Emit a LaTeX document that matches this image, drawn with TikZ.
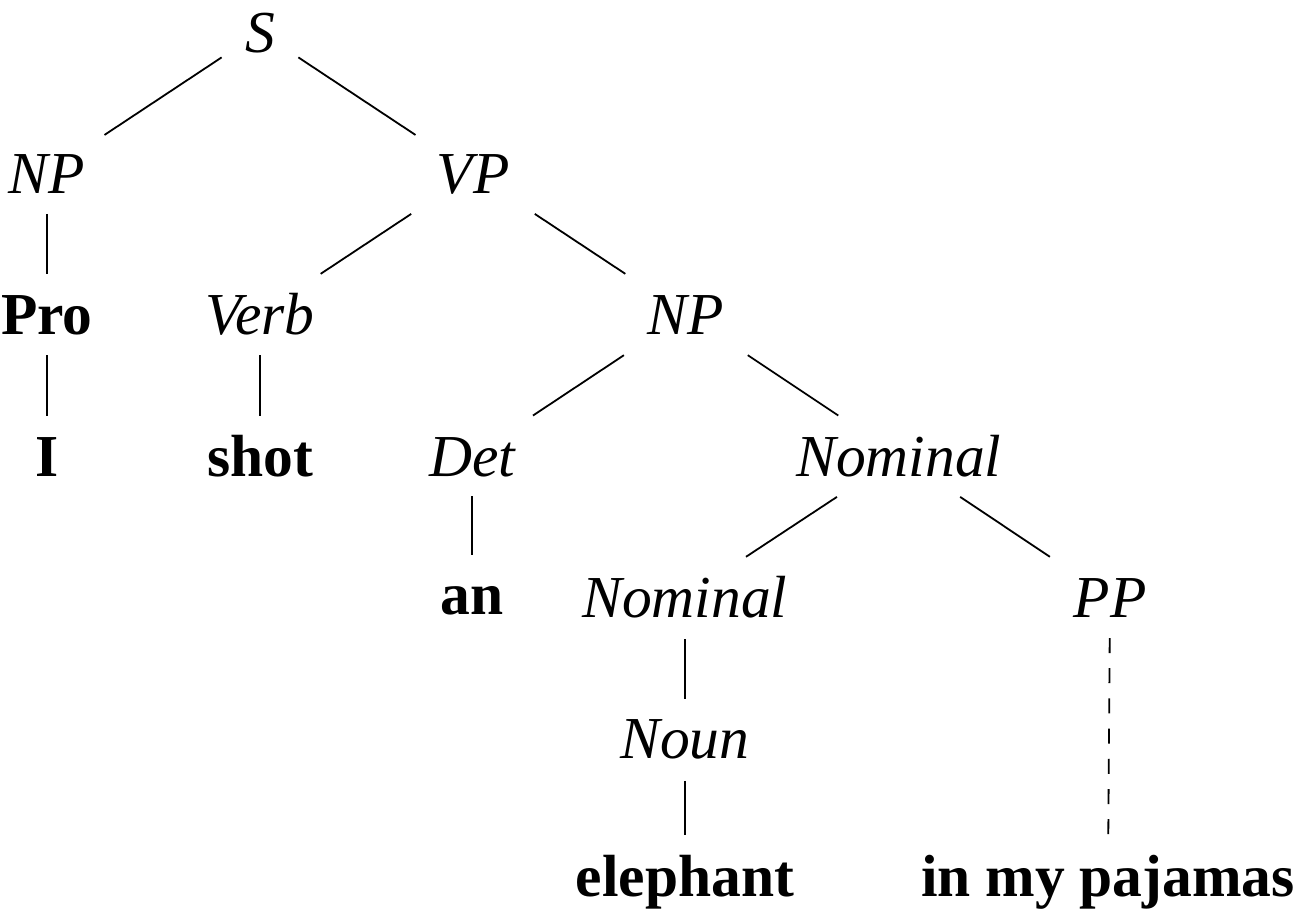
\documentclass[tikz,border=0pt]{standalone}
\usepackage{fontspec}
\setmainfont{Liberation Serif}
\usetikzlibrary{calc}
\tikzset{
  lab/.style={inner sep=0pt, outer sep=0pt, text height=40pt, text depth=0pt, anchor=base, font=\fontsize{59.5}{70}\selectfont},
  cat/.style={lab, font=\fontsize{59.5}{70}\selectfont\itshape},
  wrd/.style={lab, font=\fontsize{59.5}{70}\selectfont\bfseries},
  branch/.style={line width=1.8pt, black},
  dashbranch/.style={branch, dash pattern=on 15pt off 15.2pt}
}
\newcommand\treeline[4]{\draw[branch] ($(#1)!#3!(#2)$) -- ($(#1)!#4!(#2)$);}
\begin{document}
\begin{tikzpicture}[x=1pt,y=-1pt]
\useasboundingbox (0,0) rectangle (1302,919);
% row 0
\node[cat] (S) at (260,52) {S};
% row 1
\node[cat] (NPa) at (47,193) {NP};
\node[cat] (VP) at (473,193) {VP};
% row 2
\node[wrd] (Pro) at (47,334) {Pro};
\node[cat] (Verb) at (260,334) {Verb};
\node[cat] (NPb) at (686,334) {NP};
% row 3
\node[wrd] (I) at (47,476) {I};
\node[wrd] (shot) at (260,476) {shot};
\node[cat] (Det) at (472,476) {Det};
\node[cat] (NomA) at (899,476) {Nominal};
% row 4
\node[wrd] (an) at (472,614) {an};
\node[cat] (NomB) at (685,617) {Nominal};
\node[cat] (PP) at (1110,617) {PP};
% row 5
\node[cat] (Noun) at (685,758) {Noun};
% row 6
\node[wrd] (eleph) at (685,896) {elephant};
\node[wrd] (pj) at (1108,896) {in my pajamas};
% connectors
\treeline{S}{NPa}{0.18}{0.73}
\treeline{S}{VP}{0.18}{0.73}
\treeline{NPa}{Pro}{0.29}{0.715}
\treeline{Pro}{I}{0.29}{0.715}
\treeline{VP}{Verb}{0.29}{0.715}
\treeline{VP}{NPb}{0.29}{0.715}
\treeline{Verb}{shot}{0.29}{0.715}
\treeline{NPb}{Det}{0.29}{0.715}
\treeline{NPb}{NomA}{0.29}{0.715}
\treeline{Det}{an}{0.29}{0.715}
\treeline{NomA}{NomB}{0.29}{0.715}
\treeline{NomA}{PP}{0.29}{0.715}
\treeline{NomB}{Noun}{0.30}{0.72}
\treeline{Noun}{eleph}{0.31}{0.70}
\draw[dashbranch] ($(PP)!0.147!(pj)$) -- ($(PP)!0.853!(pj)$);
\end{tikzpicture}
\end{document}
